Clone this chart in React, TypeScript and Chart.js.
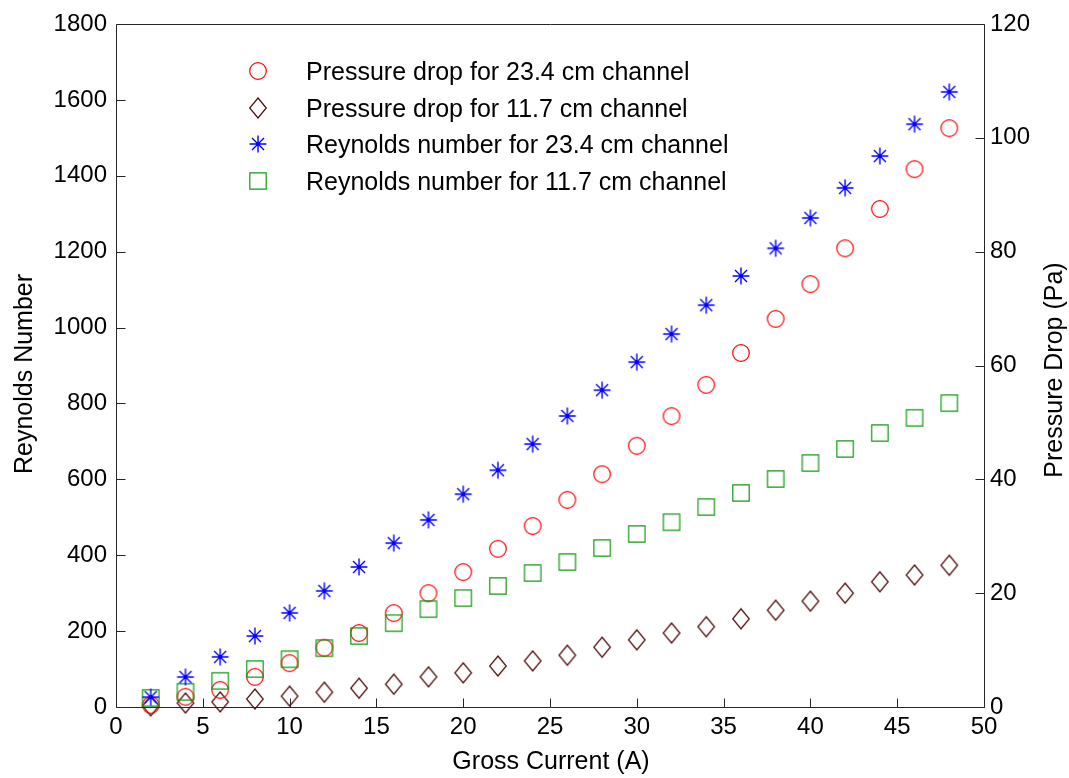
import React, { useEffect, useRef } from 'react';
import { Chart, registerables } from 'chart.js';

Chart.register(...registerables);

// ---------- data ----------
const current = [2, 4, 6, 8, 10, 12, 14, 16, 18, 20, 22, 24, 26, 28, 30, 32, 34, 36, 38, 40, 42, 44, 46, 48];

const pressure234 = [0.35, 1.8, 3.0, 5.3, 7.7, 10.4, 13.0, 16.5, 20.0, 23.7, 27.8, 31.8, 36.4, 40.9, 45.9, 51.1, 56.6, 62.2, 68.2, 74.3, 80.6, 87.5, 94.5, 101.7];
const pressure117 = [0.2, 0.7, 0.9, 1.4, 1.9, 2.6, 3.3, 4.0, 5.3, 6.0, 7.2, 8.1, 9.1, 10.5, 11.8, 13.0, 14.1, 15.5, 17.0, 18.6, 20.0, 22.0, 23.2, 24.9];
const reynolds234 = [26, 79, 132, 187, 248, 306, 369, 432, 493, 561, 624, 693, 767, 835, 909, 983, 1059, 1136, 1209, 1289, 1368, 1452, 1536, 1621];
const reynolds117 = [24, 40, 69, 100, 126, 155, 187, 221, 258, 287, 319, 353, 382, 419, 456, 487, 527, 564, 601, 643, 680, 722, 762, 801];

const xTickValues = [0, 5, 10, 15, 20, 25, 30, 35, 40, 45, 50];
const leftTickValues = [0, 200, 400, 600, 800, 1000, 1200, 1400, 1600, 1800];
const rightTickValues = [0, 20, 40, 60, 80, 100, 120];

const seriesLabels = [
  'Pressure drop for 23.4 cm channel',
  'Pressure drop for 11.7 cm channel',
  'Reynolds number for 23.4 cm channel',
  'Reynolds number for 11.7 cm channel',
];

const xTitle = 'Gross Current (A)';
const leftTitle = 'Reynolds Number';
const rightTitle = 'Pressure Drop (Pa)';

// ---------- styles ----------
const FONT = '"Liberation Sans", Arial, Helvetica, sans-serif';
const FONT_SIZE = 24;
const TEXT_SIZE = 25;
const AXIS_COLOR = '#262626';

type MarkerKind = 'circle' | 'diamond' | 'star' | 'square';
const markerKinds: MarkerKind[] = ['circle', 'diamond', 'star', 'square'];
const markerColors = ['#ff0000', '#4d0a0a', '#0000ff', '#119911'];

function drawMarker(ctx: CanvasRenderingContext2D, kind: MarkerKind, x: number, y: number, color: string) {
  ctx.save();
  ctx.strokeStyle = color;
  ctx.fillStyle = color;
  ctx.lineWidth = 1.2;
  ctx.beginPath();
  if (kind === 'circle') {
    ctx.arc(x, y, 8.3, 0, Math.PI * 2);
  } else if (kind === 'diamond') {
    ctx.moveTo(x, y - 10);
    ctx.lineTo(x + 8.3, y);
    ctx.lineTo(x, y + 10);
    ctx.lineTo(x - 8.3, y);
    ctx.closePath();
  } else if (kind === 'square') {
    ctx.rect(x - 8.2, y - 8.2, 16.4, 16.4);
  } else {
    ctx.lineWidth = 1.4;
    const a = 8.4;
    const d = 6;
    ctx.moveTo(x - a, y);
    ctx.lineTo(x + a, y);
    ctx.moveTo(x, y - a);
    ctx.lineTo(x, y + a);
    ctx.moveTo(x - d, y - d);
    ctx.lineTo(x + d, y + d);
    ctx.moveTo(x - d, y + d);
    ctx.lineTo(x + d, y - d);
  }
  ctx.stroke();
  if (kind === 'star') {
    ctx.beginPath();
    ctx.arc(x, y, 1.4, 0, Math.PI * 2);
    ctx.fill();
  }
  ctx.restore();
}

function makeMarkerImage(kind: MarkerKind, color: string): HTMLCanvasElement {
  const c = document.createElement('canvas');
  c.width = 28;
  c.height = 28;
  const ctx = c.getContext('2d')!;
  drawMarker(ctx, kind, 14, 14, color);
  return c;
}

const decorPlugin = {
  id: 'decor',
  afterDatasetsDraw(chart: any) {
    const { ctx, chartArea } = chart;
    const { left, right, top, bottom } = chartArea;
    const xs = chart.scales.x;
    const yl = chart.scales.yLeft;
    const yr = chart.scales.yRight;
    ctx.save();
    ctx.strokeStyle = AXIS_COLOR;
    ctx.lineWidth = 1;
    const L = Math.round(left) + 0.5;
    const R = Math.round(right) + 0.5;
    const T = Math.round(top) + 0.5;
    const B = Math.round(bottom) + 0.5;
    ctx.beginPath();
    ctx.moveTo(L, T);
    ctx.lineTo(R, T);
    ctx.lineTo(R, B);
    ctx.lineTo(L, B);
    ctx.closePath();
    ctx.stroke();
    const tl = 9;
    ctx.beginPath();
    xTickValues.forEach((v) => {
      const px = Math.round(xs.getPixelForValue(v)) + 0.5;
      ctx.moveTo(px, B);
      ctx.lineTo(px, B - tl);
    });
    leftTickValues.forEach((v) => {
      const py = Math.round(yl.getPixelForValue(v)) + 0.5;
      ctx.moveTo(L, py);
      ctx.lineTo(L + tl, py);
    });
    rightTickValues.forEach((v) => {
      const py = Math.round(yr.getPixelForValue(v)) + 0.5;
      ctx.moveTo(R, py);
      ctx.lineTo(R - tl, py);
    });
    ctx.stroke();

    // legend
    ctx.font = `${TEXT_SIZE}px ${FONT}`;
    ctx.fillStyle = '#000';
    ctx.textAlign = 'left';
    ctx.textBaseline = 'alphabetic';
    const baselines = [80, 117, 153, 190];
    seriesLabels.forEach((lab, i) => {
      drawMarker(ctx, markerKinds[i], 258, baselines[i] - 9, markerColors[i]);
      ctx.fillText(lab, 306, baselines[i]);
    });

    // titles
    ctx.textAlign = 'center';
    ctx.fillText(xTitle, 551, 769);
    ctx.save();
    ctx.translate(32, 374);
    ctx.rotate(-Math.PI / 2);
    ctx.fillText(leftTitle, 0, 0);
    ctx.restore();
    ctx.save();
    ctx.translate(1062, 370);
    ctx.rotate(-Math.PI / 2);
    ctx.fillText(rightTitle, 0, 0);
    ctx.restore();
    ctx.restore();
  },
};

const plain = (v: any) => String(v);

export default function App() {
  const ref = useRef<HTMLCanvasElement>(null);

  useEffect(() => {
    if (!ref.current) return;
    const imgs = markerKinds.map((k, i) => makeMarkerImage(k, markerColors[i]));
    const seriesData = [pressure234, pressure117, reynolds234, reynolds117];
    const axisIds = ['yRight', 'yRight', 'yLeft', 'yLeft'];
    const datasets = seriesData.map((vals, i) => ({
      label: seriesLabels[i],
      data: current.map((x, j) => ({ x, y: vals[j] })),
      yAxisID: axisIds[i],
      pointStyle: imgs[i],
      pointRadius: 9,
      showLine: false,
      clip: false as any,
      order: [2, 3, 0, 1][i],
    }));
    const tickFont = { family: FONT, size: FONT_SIZE };
    const chart = new Chart(ref.current, {
      type: 'scatter',
      data: { datasets },
      plugins: [decorPlugin],
      options: {
        animation: false,
        responsive: false,
        layout: { padding: { top: 24, left: 0, right: 0, bottom: 0 } },
        plugins: { legend: { display: false }, tooltip: { enabled: false } },
        scales: {
          x: {
            type: 'linear',
            min: 0,
            max: 50,
            grid: { display: false, drawTicks: false },
            border: { display: false },
            afterBuildTicks: (s: any) => {
              s.ticks = xTickValues.map((v) => ({ value: v }));
            },
            afterFit: (s: any) => {
              s.height = 71;
            },
            ticks: { autoSkip: false, maxRotation: 0, padding: 6, color: '#000', font: tickFont, callback: plain },
          },
          yLeft: {
            type: 'linear',
            position: 'left',
            min: 0,
            max: 1800,
            grid: { display: false, drawTicks: false },
            border: { display: false },
            afterBuildTicks: (s: any) => {
              s.ticks = leftTickValues.map((v) => ({ value: v }));
            },
            afterFit: (s: any) => {
              s.width = 116;
            },
            ticks: { autoSkip: false, padding: 9, color: '#000', font: tickFont, callback: plain },
          },
          yRight: {
            type: 'linear',
            position: 'right',
            min: 0,
            max: 120,
            grid: { display: false, drawTicks: false },
            border: { display: false },
            afterBuildTicks: (s: any) => {
              s.ticks = rightTickValues.map((v) => ({ value: v }));
            },
            afterFit: (s: any) => {
              s.width = 85;
            },
            ticks: { autoSkip: false, padding: 6, color: '#000', font: tickFont, callback: plain },
          },
        },
      } as any,
    });
    return () => chart.destroy();
  }, []);

  return (
    <div style={{ position: 'absolute', left: 0, top: 0, width: 1069, height: 778, background: '#fff' }}>
      <canvas ref={ref} width={1069} height={778} />
    </div>
  );
}
